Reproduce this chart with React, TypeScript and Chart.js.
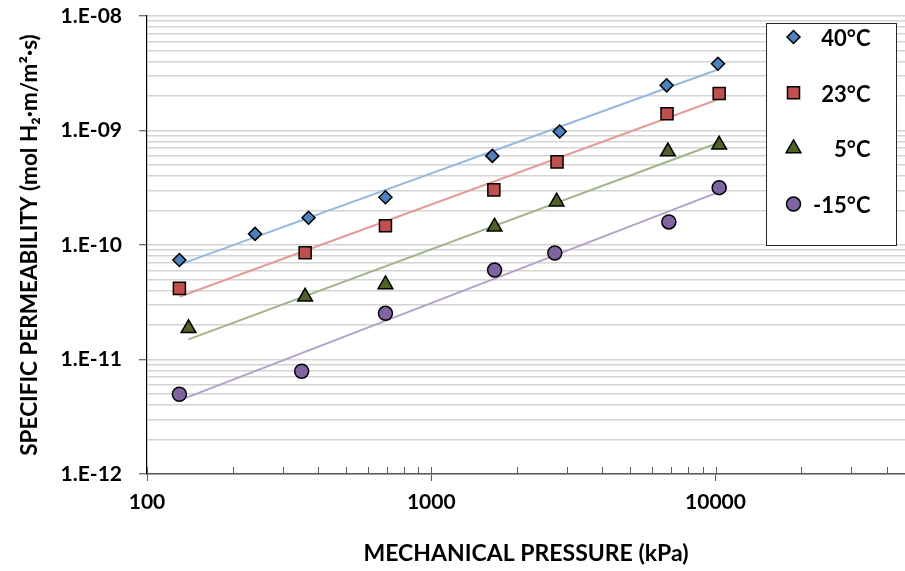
import React, { useEffect, useRef } from 'react';
import { Chart, registerables } from 'chart.js';
import { drawPoint } from 'chart.js/helpers';

Chart.register(...registerables);

// ---------- data ----------
const seriesLabels = ['40°C', '23°C', '5°C', '-15°C'];

const pressure40 = [130, 240, 370, 690, 1640, 2830, 6730, 10200];
const perm40 = [7.4e-11, 1.25e-10, 1.73e-10, 2.61e-10, 6.0e-10, 9.8e-10, 2.48e-9, 3.83e-9];

const pressure23 = [130, 360, 690, 1660, 2770, 6750, 10300];
const perm23 = [4.18e-11, 8.57e-11, 1.47e-10, 3.03e-10, 5.32e-10, 1.4e-9, 2.1e-9];

const pressure5 = [140, 360, 690, 1670, 2760, 6800, 10300];
const perm5 = [1.87e-11, 3.53e-11, 4.53e-11, 1.44e-10, 2.39e-10, 6.55e-10, 7.5e-10];

const pressureM15 = [130, 350, 690, 1670, 2720, 6850, 10300];
const permM15 = [4.97e-12, 7.9e-12, 2.53e-11, 6.04e-11, 8.51e-11, 1.59e-10, 3.17e-10];

const xDecades = [100, 1000, 10000];
const xTickLabels = ['100', '1000', '10000'];
const yDecades = [1e-12, 1e-11, 1e-10, 1e-9, 1e-8];
const yTickLabels = ['1.E-12', '1.E-11', '1.E-10', '1.E-09', '1.E-08'];

const X_MIN = 100;
const X_MAX = 46400;
const Y_MIN = 1e-12;
const Y_MAX = 1e-8;

// ---------- styles ----------
const markerStyles = ['rectRot', 'rect', 'triangle', 'circle'];
const markerRadius = [6.5, 8.5, 8.5, 7];
const markerColors = ['#4F81BD', '#C0504D', '#4F6228', '#8064A2'];
const trendColors = ['#95B8E0', '#E39C97', '#A3B48A', '#B3A2C7'];
const FONT = 'Lato';

function sameValue(a: number, b: number) {
  return Math.abs(a - b) <= Math.abs(b) * 1e-6;
}
function decadeIndex(list: number[], v: number) {
  return list.findIndex((d) => sameValue(v, d));
}
function logTicks(min: number, max: number) {
  const out: number[] = [];
  const e0 = Math.floor(Math.log10(min));
  const e1 = Math.ceil(Math.log10(max));
  for (let e = e0; e <= e1; e++) {
    for (let m = 1; m <= 9; m++) {
      const v = m * Math.pow(10, e);
      if (v >= min * (1 - 1e-9) && v <= max * (1 + 1e-9)) out.push(v);
    }
  }
  return out;
}

function powerTrend(xs: number[], ys: number[]) {
  const lx = xs.map(Math.log);
  const ly = ys.map(Math.log);
  const n = xs.length;
  const mx = lx.reduce((a, b) => a + b, 0) / n;
  const my = ly.reduce((a, b) => a + b, 0) / n;
  let sxy = 0;
  let sxx = 0;
  for (let i = 0; i < n; i++) {
    sxy += (lx[i] - mx) * (ly[i] - my);
    sxx += (lx[i] - mx) * (lx[i] - mx);
  }
  const b = sxy / sxx;
  const a = my - b * mx;
  const x0 = Math.min(...xs);
  const x1 = Math.max(...xs);
  return [
    { x: x0, y: Math.exp(a + b * Math.log(x0)) },
    { x: x1, y: Math.exp(a + b * Math.log(x1)) },
  ];
}

const allX = [pressure40, pressure23, pressure5, pressureM15];
const allY = [perm40, perm23, perm5, permM15];

const innerTicksPlugin = {
  id: 'innerTicks',
  afterDraw(chart: any) {
    const ctx = chart.ctx;
    const xs = chart.scales.x;
    const bottom = chart.chartArea.bottom;
    ctx.save();
    ctx.strokeStyle = '#595959';
    ctx.lineWidth = 1;
    xs.ticks.forEach((t: any) => {
      const px = Math.round(xs.getPixelForValue(t.value)) + 0.5;
      ctx.beginPath();
      ctx.moveTo(px, bottom);
      ctx.lineTo(px, bottom - 7);
      ctx.stroke();
    });
    ctx.restore();
  },
};

const boxLegendPlugin = {
  id: 'boxLegend',
  afterDraw(chart: any) {
    const ctx = chart.ctx;
    const ca = chart.chartArea;
    const left = ca.right - 138.5;
    const top = ca.top + 7.5;
    const w = 130;
    const h = 222;
    ctx.save();
    ctx.fillStyle = '#ffffff';
    ctx.fillRect(left, top, w, h);
    ctx.strokeStyle = '#262626';
    ctx.lineWidth = 1;
    ctx.strokeRect(left, top, w, h);
    const step = 55.7;
    seriesLabels.forEach((label, i) => {
      const cy = top + 13.5 + i * step;
      ctx.fillStyle = markerColors[i];
      ctx.strokeStyle = '#000000';
      ctx.lineWidth = 1.5;
      drawPoint(ctx, { pointStyle: markerStyles[i] as any, radius: markerRadius[i], rotation: 0, borderWidth: 1.5 }, left + 27, cy);
      ctx.fillStyle = '#000000';
      ctx.font = `bold 22px ${FONT}`;
      ctx.textAlign = 'right';
      ctx.textBaseline = 'middle';
      ctx.fillText(label, left + 104, cy + 2);
    });
    ctx.restore();
  },
};

export default function App() {
  const canvasRef = useRef<HTMLCanvasElement | null>(null);

  useEffect(() => {
    if (!canvasRef.current) return;
    const scatterSets = seriesLabels.map((label, i) => ({
      type: 'scatter' as const,
      label,
      data: allX[i].map((x, j) => ({ x, y: allY[i][j] })),
      pointStyle: markerStyles[i],
      pointRadius: markerRadius[i],
      pointHoverRadius: markerRadius[i],
      backgroundColor: markerColors[i],
      borderColor: '#000000',
      pointBorderWidth: 1.5,
      showLine: false,
      order: 1,
    }));
    const trendSets = seriesLabels.map((label, i) => ({
      type: 'line' as const,
      label: label + ' trend',
      data: powerTrend(allX[i], allY[i]),
      borderColor: trendColors[i],
      borderWidth: 2,
      pointRadius: 0,
      showLine: true,
      fill: false,
      order: 5,
    }));

    const chart = new Chart(canvasRef.current, {
      type: 'scatter',
      data: { datasets: [...scatterSets, ...trendSets] as any },
      options: {
        animation: false,
        responsive: false,
        layout: { autoPadding: false, padding: { top: 16, left: 0, right: 0, bottom: 0 } },
        plugins: {
          legend: { display: false },
          tooltip: { enabled: false },
        },
        scales: {
          x: {
            type: 'logarithmic',
            min: X_MIN,
            max: X_MAX,
            afterBuildTicks: (scale: any) => {
              scale.ticks = logTicks(X_MIN, X_MAX).map((v) => ({ value: v }));
            },
            afterFit: (scale: any) => {
              scale.height = 97;
              scale.paddingLeft = 0;
              scale.paddingRight = 0;
            },
            ticks: {
              autoSkip: false,
              maxRotation: 0,
              padding: 9,
              color: '#000000',
              font: { family: FONT, size: 21, weight: 'bold' },
              callback: (v: any) => {
                const k = decadeIndex(xDecades, Number(v));
                return k >= 0 ? xTickLabels[k] : '';
              },
            },
            grid: {
              drawOnChartArea: false,
              drawTicks: true,
              tickLength: 7,
              tickWidth: 1,
              tickColor: (ctx: any) =>
                ctx.tick && decadeIndex(xDecades, ctx.tick.value) >= 0 ? '#595959' : 'rgba(0,0,0,0)',
            },
            border: { display: true, color: '#595959', width: 1.5 },
            title: {
              display: true,
              text: 'MECHANICAL PRESSURE (kPa)',
              color: '#000000',
              font: { family: FONT, size: 23, weight: 'bold' },
              padding: { top: 0, bottom: 4 },
            },
          },
          y: {
            type: 'logarithmic',
            min: Y_MIN,
            max: Y_MAX,
            afterBuildTicks: (scale: any) => {
              scale.ticks = logTicks(Y_MIN, Y_MAX).map((v) => ({ value: v }));
            },
            afterFit: (scale: any) => {
              scale.width = 147;
              scale.paddingTop = 0;
              scale.paddingBottom = 0;
            },
            ticks: {
              autoSkip: false,
              padding: 17,
              color: '#000000',
              font: { family: FONT, size: 21, weight: 'bold' },
              callback: (v: any) => {
                const k = decadeIndex(yDecades, Number(v));
                return k >= 0 ? yTickLabels[k] : '';
              },
            },
            grid: {
              color: '#D4D4D4',
              lineWidth: 1.5,
              drawTicks: true,
              tickLength: 8,
              tickWidth: 1,
              tickColor: (ctx: any) =>
                ctx.tick && decadeIndex(yDecades, ctx.tick.value) >= 0 ? '#404040' : 'rgba(0,0,0,0)',
            },
            border: { display: true, color: '#000000', width: 1.2 },
            title: {
              display: true,
              text: 'SPECIFIC PERMEABILITY (mol H₂·m/m²·s)',
              color: '#000000',
              font: { family: FONT, size: 22.5, weight: 'bold' },
              padding: { top: 16, bottom: 0 },
            },
          },
        },
      },
      plugins: [innerTicksPlugin, boxLegendPlugin],
    });
    return () => chart.destroy();
  }, []);

  return (
    <div style={{ position: 'absolute', left: 0, top: 0, width: 905, height: 571, background: '#ffffff' }}>
      <canvas ref={canvasRef} width={905} height={571} style={{ display: 'block' }} />
    </div>
  );
}
